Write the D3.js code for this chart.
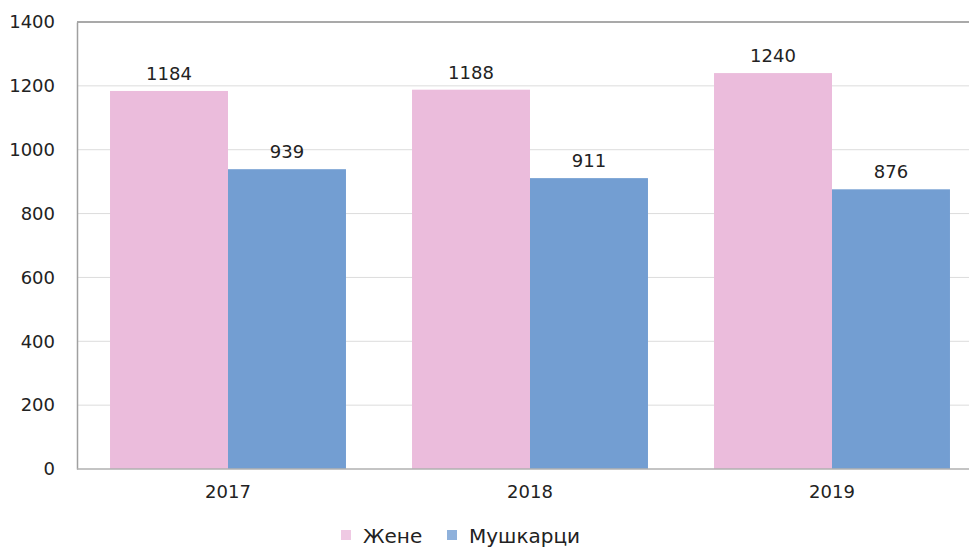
<!DOCTYPE html>
<html>
<head>
<meta charset="utf-8">
<script src="https://cdn.jsdelivr.net/npm/d3@7"></script>
<style>
  body { margin: 0; background: #fff; }
  text { font-family: "DejaVu Sans", "Liberation Sans", Arial, sans-serif; fill: #222; }
</style>
</head>
<body>
<div id="chart"></div>
<script>
// data
var years = ["2017", "2018", "2019"];
var seriesNames = ["Жене", "Мушкарци"];
var women = [1184, 1188, 1240];
var men = [939, 911, 876];
var yTicks = [0, 200, 400, 600, 800, 1000, 1200, 1400];
var colors = ["#ebbcdc", "#739ed2"];

var W = 969, H = 550;
var margin = {top: 22, right: -14, bottom: 81, left: 77},
    width = W - margin.left - margin.right,
    height = H - margin.top - margin.bottom;

var svg = d3.select("#chart")
  .append("svg")
    .attr("width", W)
    .attr("height", H)
  .append("g")
    .attr("transform", "translate(" + margin.left + "," + margin.top + ")");

var x = d3.scaleBand()
  .domain(years)
  .range([0, width])
  .paddingInner(0)
  .paddingOuter(0);

// two bars per year, touching, with a gap on each side
var xSub = d3.scaleBand()
  .domain(seriesNames)
  .range([0, x.bandwidth()])
  .paddingOuter(0.28)
  .paddingInner(0);

var y = d3.scaleLinear()
  .domain([0, 1400])
  .range([height, 0]);

// gridlines
svg.append("g")
  .selectAll("line")
  .data(yTicks.filter(function(d) { return d > 0 && d < 1400; }))
  .enter().append("line")
    .attr("x1", 0).attr("x2", W)
    .attr("y1", function(d) { return y(d); })
    .attr("y2", function(d) { return y(d); })
    .attr("stroke", "#dcdcdc")
    .attr("stroke-width", 1);

// top border
svg.append("line")
  .attr("x1", 0).attr("x2", W)
  .attr("y1", y(1400)).attr("y2", y(1400))
  .attr("stroke", "#8c8c8c").attr("stroke-width", 1.5);

// y axis
var yAxis = svg.append("g")
  .call(d3.axisLeft(y).tickValues(yTicks).tickFormat(d3.format("d")).tickSize(0).tickPadding(22));
yAxis.select(".domain").attr("stroke", "#a0a0a0").attr("stroke-width", 1.5);
yAxis.selectAll("text")
  .style("font-size", "18px")
  .attr("fill", "#222");

var table = years.map(function(yr, i) {
  return {year: yr, values: [
    {name: seriesNames[0], v: women[i]},
    {name: seriesNames[1], v: men[i]}
  ]};
});

// bars
var groups = svg.selectAll(".grp")
  .data(table)
  .enter().append("g")
    .attr("class", "grp")
    .attr("transform", function(d) { return "translate(" + x(d.year) + ",0)"; });

groups.selectAll("rect")
  .data(function(d) { return d.values; })
  .enter().append("rect")
    .attr("x", function(d) { return xSub(d.name); })
    .attr("width", xSub.bandwidth())
    .attr("y", function(d) { return y(d.v); })
    .attr("height", function(d) { return height - y(d.v); })
    .attr("fill", function(d, i) { return colors[i]; });

groups.selectAll(".lbl")
  .data(function(d) { return d.values; })
  .enter().append("text")
    .attr("class", "lbl")
    .attr("x", function(d) { return xSub(d.name) + xSub.bandwidth() / 2; })
    .attr("y", function(d) { return y(d.v) - 11; })
    .attr("text-anchor", "middle")
    .style("font-size", "18px")
    .text(function(d) { return d.v; });

// x axis
var xAxis = svg.append("g")
  .attr("transform", "translate(0," + height + ")")
  .call(d3.axisBottom(x).tickSize(0).tickPadding(16));
xAxis.select(".domain").remove();
svg.append("line")
  .attr("x1", 0).attr("x2", W)
  .attr("y1", height).attr("y2", height)
  .attr("stroke", "#b0b0b0").attr("stroke-width", 1.5);
xAxis.selectAll("text")
  .style("font-size", "18px")
  .attr("fill", "#222");

// legend
var legend = svg.append("g")
  .attr("transform", "translate(0," + (height + 74) + ")");
var legX = [264, 370];
seriesNames.forEach(function(n, i) {
  legend.append("rect")
    .attr("x", legX[i]).attr("y", -13)
    .attr("width", 10).attr("height", 10)
    .attr("fill", colors[i])
    .attr("opacity", 0.8);
  legend.append("text")
    .attr("x", legX[i] + 22).attr("y", 0)
    .style("font-size", "20px")
    .text(n);
});
</script>
</body>
</html>
